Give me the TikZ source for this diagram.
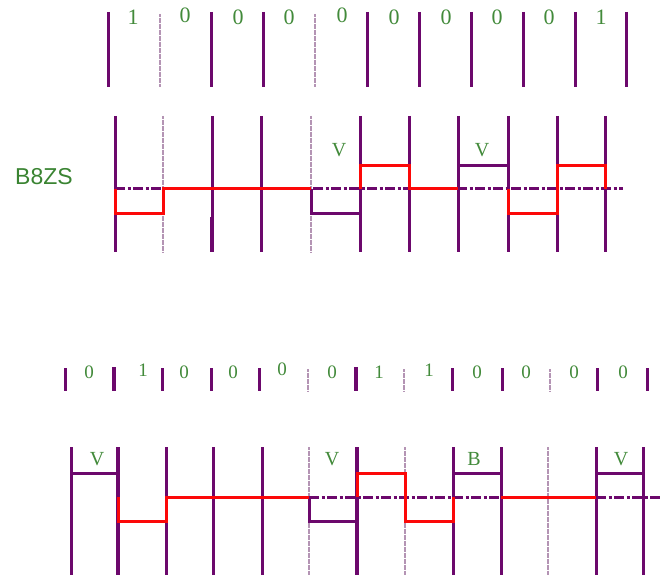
\documentclass[tikz,border=0pt]{standalone}
\usepackage{fontspec}
\setmainfont{Liberation Serif}
\newfontfamily\labsans{Liberation Sans}
\definecolor{wpurple}{RGB}{108,8,108}
\definecolor{wlight}{RGB}{180,148,180}
\definecolor{wgreen}{RGB}{66,138,58}
\definecolor{wgreenb}{RGB}{58,132,50}
\definecolor{wred}{RGB}{252,8,8}
\tikzset{
  tick/.style={draw=wpurple, line width=3pt},
  tickthick/.style={draw=wpurple, line width=3.9pt},
  tickdot/.style={draw=wlight, line width=2.2pt, dash pattern=on 0.6pt off 0.6pt},
  vline/.style={draw=wpurple, line width=3pt},
  vthick/.style={draw=wpurple, line width=3.9pt},
  vdot/.style={draw=wlight, line width=2.2pt, dash pattern=on 0.6pt off 0.6pt},
  baseline/.style={draw=wpurple, line width=3pt, dash pattern=on 10pt off 2.5pt on 3pt off 2.5pt},
  pwave/.style={draw=wpurple, line width=3pt},
  rwave/.style={draw=wred, line width=3pt, line join=miter},
  bitlab/.style={text=wgreen, inner sep=0pt, font=\fontsize{22}{22}\selectfont},
  bitlabs/.style={text=wgreen, inner sep=0pt, font=\fontsize{19}{19}\selectfont},
  vlab/.style={text=wgreen, inner sep=0pt, font=\fontsize{20}{20}\selectfont},
}
\begin{document}
\begin{tikzpicture}[x=1pt,y=-1pt]
\useasboundingbox (0,0) rectangle (670,575);
% ---------- top bit row ----------
\foreach \x in {108,211,263,367,419,471,523,575,626} \draw[tick] (\x,12) -- (\x,87);
\foreach \x in {160,315} \draw[tickdot] (\x,14) -- (\x,87);
\node[bitlab] (t1) at (133,17) {1};
\node[bitlab] (t2) at (185,15) {0};
\node[bitlab] (t3) at (238,17) {0};
\node[bitlab] (t4) at (289,17) {0};
\node[bitlab] (t5) at (342,15) {0};
\node[bitlab] (t6) at (394,17) {0};
\node[bitlab] (t7) at (446,17) {0};
\node[bitlab] (t8) at (497,17) {0};
\node[bitlab] (t9) at (549,17) {0};
\node[bitlab] (t10) at (601,17) {1};
% ---------- B8ZS waveform ----------
\node[text=wgreenb, inner sep=0pt, font=\labsans\fontsize{23}{23}\selectfont] (b8zs) at (44,177) {B8ZS};
\foreach \x in {115,212,261,360,409,458,508,557,605} \draw[vline] (\x,116) -- (\x,252);
\draw[vthick] (212,217) -- (212,252);
\foreach \x in {163,311} \draw[vdot] (\x,116) -- (\x,252);
\draw[baseline] (115,189) -- (623,189);
\draw[pwave] (311,189) -- (311,214) -- (360,214) -- (360,189);
\draw[pwave] (458,189) -- (458,166) -- (508,166) -- (508,189);
\draw[rwave] (115,189) -- (115,214) -- (163,214) -- (163,189) -- (311,189);
\draw[rwave] (360,189) -- (360,166) -- (409,166) -- (409,189) -- (458,189);
\draw[rwave] (508,189) -- (508,214) -- (557,214) -- (557,166) -- (605,166) -- (605,189);
\node[vlab] (mv1) at (339,150) {V};
\node[vlab] (mv2) at (482,150) {V};
% ---------- bottom bit row ----------
\foreach \x in {65,162,211,259,452,502,597,647} \draw[tick] (\x,368) -- (\x,391);
\foreach \x in {114,356} \draw[tickthick] (\x,367) -- (\x,391);
\foreach \x in {308,404,550} \draw[tickdot] (\x,369) -- (\x,391);
\node[bitlabs] (u1) at (89,372) {0};
\node[bitlabs] (u2) at (143,370) {1};
\node[bitlabs] (u3) at (184,372) {0};
\node[bitlabs] (u4) at (233,372) {0};
\node[bitlabs] (u5) at (282,369) {0};
\node[bitlabs] (u6) at (332,372) {0};
\node[bitlabs] (u7) at (379,372) {1};
\node[bitlabs] (u8) at (429,370) {1};
\node[bitlabs] (u9) at (477,372) {0};
\node[bitlabs] (u10) at (526,372) {0};
\node[bitlabs] (u11) at (574,372) {0};
\node[bitlabs] (u12) at (623,372) {0};
% ---------- bottom waveform ----------
\foreach \x in {71,166,213,262,453,501,596,643} \draw[vline] (\x,447) -- (\x,575);
\foreach \x in {118,357} \draw[vthick] (\x,447) -- (\x,575);
\foreach \x in {309,405,548} \draw[vdot] (\x,447) -- (\x,575);
\draw[baseline] (309,497) -- (501,497);
\draw[baseline] (596,497) -- (662,497);
\draw[pwave] (71,473) -- (118,473);
\draw[pwave] (309,497) -- (309,521) -- (357,521) -- (357,497);
\draw[pwave] (453,497) -- (453,473) -- (501,473) -- (501,497);
\draw[pwave] (596,497) -- (596,473) -- (643,473) -- (643,497);
\draw[rwave] (118,497) -- (118,521) -- (166,521) -- (166,497) -- (309,497);
\draw[rwave] (357,497) -- (357,473) -- (405,473) -- (405,521) -- (453,521) -- (453,497);
\draw[rwave] (501,497) -- (596,497);
\node[vlab] (bv1) at (97,459) {V};
\node[vlab] (bv2) at (332,459) {V};
\node[vlab] (bb) at (474,459) {B};
\node[vlab] (bv3) at (621,459) {V};
\end{tikzpicture}
\end{document}
